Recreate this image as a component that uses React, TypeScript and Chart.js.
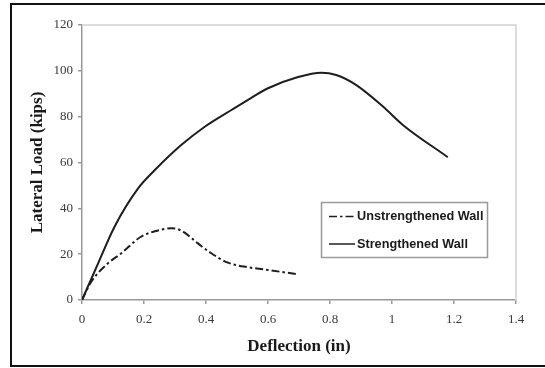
import React, { useEffect, useRef } from "react";
import { Chart, registerables } from "chart.js";

Chart.register(...registerables);

const strengthenedX = [0, 0.052, 0.105, 0.181, 0.235, 0.32, 0.396, 0.482, 0.541, 0.6, 0.697, 0.772, 0.82, 0.885, 0.971, 1.035, 1.18];
const strengthenedY = [0, 16, 32, 48.7, 56.7, 67.6, 75.6, 82.9, 87.8, 92.4, 97.3, 99.2, 98.2, 93.8, 84.4, 76.4, 62.3];

const unstrengthenedX = [0, 0.03, 0.084, 0.127, 0.19, 0.245, 0.288, 0.32, 0.374, 0.417, 0.471, 0.535, 0.6, 0.697];
const unstrengthenedY = [0, 8, 16, 20.4, 27.6, 30.3, 31.3, 30.3, 24.7, 20.4, 16.3, 14.3, 13.1, 11.2];

const xTickLabels = ["0", "0.2", "0.4", "0.6", "0.8", "1", "1.2", "1.4"];
const yTickLabels = ["0", "20", "40", "60", "80", "100", "120"];

const seriesNames = ["Unstrengthened Wall", "Strengthened Wall"];
const xTitle = "Deflection (in)";
const yTitle = "Lateral Load (kips)";

const LINE_COLOR = "#1e1e1e";
const DASH_DOT = [8, 3, 2.5, 3];

const framePlugin = {
  id: "frameAndLegend",
  afterDraw(chart: any) {
    const ctx = chart.ctx;
    const area = chart.chartArea;
    ctx.save();
    ctx.strokeStyle = "#dcdcdc";
    ctx.lineWidth = 2;
    ctx.beginPath();
    ctx.moveTo(area.left, area.top);
    ctx.lineTo(area.right, area.top);
    ctx.lineTo(area.right, area.bottom);
    ctx.stroke();

    ctx.strokeStyle = "#111";
    ctx.lineWidth = 2;
    ctx.beginPath();
    ctx.moveTo(chart.width + 2, 4);
    ctx.lineTo(11, 4);
    ctx.lineTo(11, 366);
    ctx.lineTo(chart.width + 2, 366);
    ctx.stroke();

    const bx = 321.5, by = 202.5, bw = 166, bh = 55;
    ctx.fillStyle = "#fff";
    ctx.fillRect(bx, by, bw, bh);
    ctx.strokeStyle = "#9a9a9a";
    ctx.lineWidth = 1.5;
    ctx.strokeRect(bx, by, bw, bh);

    const rows = [
      { y: 216.5, dash: DASH_DOT, label: seriesNames[0] },
      { y: 244, dash: [] as number[], label: seriesNames[1] },
    ];
    ctx.font = "bold 12.7px 'Liberation Sans', Arial, sans-serif";
    ctx.textBaseline = "middle";
    ctx.textAlign = "left";
    rows.forEach((r) => {
      ctx.strokeStyle = LINE_COLOR;
      ctx.lineWidth = 1.5;
      ctx.setLineDash(r.dash);
      ctx.beginPath();
      ctx.moveTo(329, r.y);
      ctx.lineTo(355, r.y);
      ctx.stroke();
      ctx.setLineDash([]);
      ctx.fillStyle = "#1a1a1a";
      ctx.fillText(r.label, 357, r.y);
    });
    ctx.restore();
  },
};

export default function App() {
  const ref = useRef<HTMLCanvasElement>(null);
  useEffect(() => {
    if (!ref.current) return;
    const chart = new Chart(ref.current, {
      type: "scatter",
      data: {
        datasets: [
          {
            label: seriesNames[0],
            data: unstrengthenedX.map((x, i) => ({ x, y: unstrengthenedY[i] })),
            showLine: true,
            borderColor: LINE_COLOR,
            borderWidth: 2,
            borderDash: DASH_DOT,
            pointRadius: 0,
            cubicInterpolationMode: "monotone",
            fill: false,
          },
          {
            label: seriesNames[1],
            data: strengthenedX.map((x, i) => ({ x, y: strengthenedY[i] })),
            showLine: true,
            borderColor: LINE_COLOR,
            borderWidth: 2,
            pointRadius: 0,
            cubicInterpolationMode: "monotone",
            fill: false,
          },
        ],
      },
      options: {
        responsive: false,
        animation: false,
        devicePixelRatio: 1,
        layout: { padding: { left: 23, top: 25, right: 29, bottom: 8 } },
        plugins: {
          legend: { display: false },
          tooltip: { enabled: false },
        },
        scales: {
          x: {
            type: "linear",
            min: 0,
            max: 1.4,
            afterFit: (s: any) => { s.height = 60; },
            ticks: {
              stepSize: 0.2,
              autoSkip: false,
              maxRotation: 0,
              padding: 8,
              color: "#3a3a3a",
              font: { family: "'Liberation Serif', 'Times New Roman', serif", size: 13 },
              callback: (_v: any, i: number) => xTickLabels[i],
            },
            grid: { drawOnChartArea: false, drawTicks: true, tickLength: 4, color: "#999", lineWidth: 1.5 },
            border: { display: true, color: "#999", width: 1.5 },
            title: {
              display: true,
              text: xTitle,
              color: "#1a1a1a",
              font: { family: "'Liberation Serif', 'Times New Roman', serif", size: 17, weight: "bold" },
              padding: { top: 4, bottom: 3 },
            },
          },
          y: {
            type: "linear",
            min: 0,
            max: 120,
            afterFit: (s: any) => { s.width = 59; },
            ticks: {
              stepSize: 20,
              padding: 5,
              color: "#3a3a3a",
              font: { family: "'Liberation Serif', 'Times New Roman', serif", size: 13 },
              callback: (_v: any, i: number) => yTickLabels[i],
            },
            grid: { drawOnChartArea: false, drawTicks: true, tickLength: 4, color: "#999", lineWidth: 1.5 },
            border: { display: true, color: "#999", width: 1.5 },
            title: {
              display: true,
              text: yTitle,
              color: "#1a1a1a",
              font: { family: "'Liberation Serif', 'Times New Roman', serif", size: 17, weight: "bold" },
              padding: { top: 4, bottom: 4 },
            },
          },
        },
      },
      plugins: [framePlugin],
    });
    return () => chart.destroy();
  }, []);
  return (
    <div style={{ position: "fixed", left: 0, top: 0, width: 545, height: 368, background: "#fff" }}>
      <canvas ref={ref} width={545} height={368} style={{ display: "block" }} />
    </div>
  );
}
